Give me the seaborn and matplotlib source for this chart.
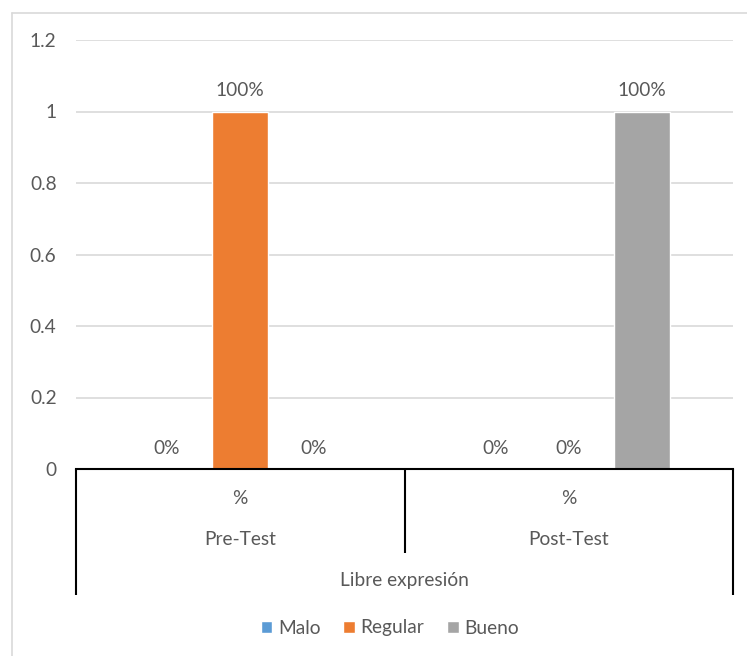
import numpy as np
import pandas as pd
import matplotlib
matplotlib.use('Agg')
import matplotlib.pyplot as plt
from matplotlib.lines import Line2D
import seaborn as sns

# Data
grupos = ['Pre-Test', 'Post-Test']
niveles = ['Malo', 'Regular', 'Bueno']
pre_test = [0, 1, 0]
post_test = [0, 0, 1]
colores = ['#5B9BD5', '#ED7D31', '#A5A5A5']
titulo_eje = 'Libre expresión'
y_ticks = [0, 0.2, 0.4, 0.6, 0.8, 1, 1.2]

df = pd.DataFrame({
    'grupo': np.repeat(grupos, len(niveles)),
    'nivel': niveles * len(grupos),
    'valor': pre_test + post_test,
})

sns.set_theme(style='white')
plt.rcParams['font.family'] = ['Lato', 'DejaVu Sans']
gris = '#595959'
fs = 13.8

fig = plt.figure(figsize=(7.47, 6.56), dpi=100)
ax = fig.add_axes([76/747, 1 - 469/656, (733 - 76)/747, 429/656])

sns.barplot(data=df, x='grupo', y='valor', hue='nivel', order=grupos,
            hue_order=niveles, palette=colores, width=0.67, gap=0.24,
            saturation=1, ax=ax, errorbar=None)

for cont in ax.containers:
    ax.bar_label(cont, labels=['{:.0%}'.format(v) for v in cont.datavalues],
                 padding=9, fontsize=fs, color=gris)

ax.set_ylim(0, 1.2)
ax.set_xlim(-0.5, 1.5)
ax.set_yticks(y_ticks)
ax.set_yticklabels(['{:g}'.format(t) for t in y_ticks], fontsize=fs, color=gris)
ax.tick_params(axis='y', length=0, pad=14)
ax.yaxis.grid(True, color='#D9D9D9', linewidth=1.2)
ax.set_axisbelow(True)
for s in ['left', 'right', 'top']:
    ax.spines[s].set_visible(False)
ax.spines['bottom'].set_color('black')
ax.spines['bottom'].set_linewidth(1.5)

ax.set_xticks([])
ax.set_xlabel('')
ax.set_ylabel('')

# multi-level category labels
tr = ax.get_xaxis_transform()
for i, g in enumerate(grupos):
    ax.text(i, -0.0676, '%', transform=tr, ha='center', va='center',
            fontsize=fs, color=gris)
    ax.text(i, -0.1655, g, transform=tr, ha='center', va='center',
            fontsize=fs, color=gris)
ax.text(0.5, -0.259, titulo_eje, transform=tr, ha='center', va='center',
        fontsize=fs, color=gris)

for xv, yb in [(-0.5, -0.294), (0.5, -0.196), (1.5, -0.294)]:
    ax.plot([xv, xv], [0, yb], transform=tr, color='black', lw=1.5,
            clip_on=False, solid_capstyle='butt')

handles, labels = ax.get_legend_handles_labels()
ax.get_legend().remove()
fig.legend(handles, labels, loc='center', bbox_to_anchor=(390/747, 1 - 628/656),
           ncol=3, frameon=False, fontsize=fs, labelcolor=gris,
           handlelength=0.6, handleheight=0.6, handletextpad=0.3,
           columnspacing=1.2)

# chart border (top and left visible)
fig.add_artist(Line2D([12/747, 1], [1 - 13/656, 1 - 13/656], color='#D9D9D9', lw=1.2))
fig.add_artist(Line2D([12/747, 12/747], [0, 1 - 13/656], color='#D9D9D9', lw=1.2))

fig.savefig('out.png', dpi=100, facecolor='white')
